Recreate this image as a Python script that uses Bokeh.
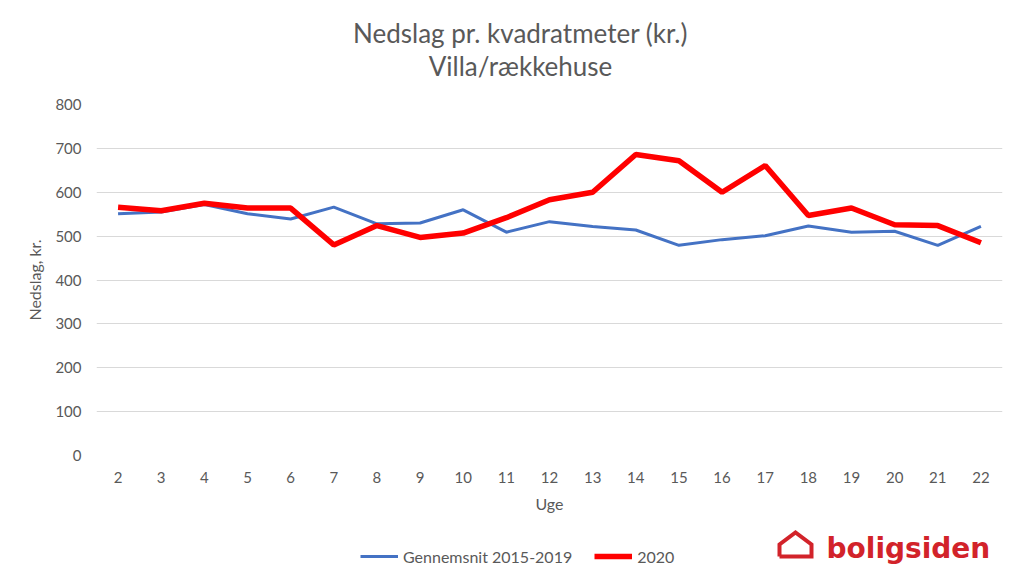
from bokeh.plotting import figure
from bokeh.layouts import column
from bokeh.models import Range1d, FixedTicker, Legend, LegendItem
from bokeh.core.properties import value
from bokeh.embed import file_html
from bokeh.resources import INLINE

# data
uge = [2, 3, 4, 5, 6, 7, 8, 9, 10, 11, 12, 13, 14, 15, 16, 17, 18, 19, 20, 21, 22]
gennemsnit = [551, 555, 572, 551, 539, 566, 528, 530, 560, 509, 533, 522, 514,
              479, 492, 501, 523, 509, 511, 479, 522]
aar2020 = [566, 558, 575, 564, 564, 480, 524, 497, 507, 542, 583, 600, 686,
           672, 600, 661, 547, 564, 526, 524, 485]
y_ticks = [0, 100, 200, 300, 400, 500, 600, 700, 800]
titles = ["Nedslag pr. kvadratmeter (kr.)", "Villa/rækkehuse"]

grey = "#595959"
blue = "#4472c4"
red = "#ff0000"
logo_red = "#d2232a"
font = "Lato"
W = 1008


def strip(h):
    # plain figure for the texts above and below the chart;
    # the column lines its frame up with the chart frame (x 96..1002)
    f = figure(width=W, height=h, output_backend="svg", toolbar_location=None,
               x_range=Range1d(96, 1002), y_range=Range1d(0, h),
               min_border=0)
    f.axis.visible = False
    f.grid.grid_line_color = None
    f.outline_line_color = None
    return f


#----------------title----------------
top = strip(90)
top.text(x=[520, 520], y=[58, 25], text=titles, text_align="center",
         text_baseline="middle", text_font=value(font),
         text_font_size="26px", text_color=grey)

#----------------main chart----------------
p = figure(width=W, height=435, output_backend="svg", toolbar_location=None,
           x_range=Range1d(1.5, 22.5), y_range=Range1d(0, 800),
           min_border_left=96, min_border_right=6,
           min_border_top=14, min_border_bottom=70)
p.outline_line_color = None

p.xaxis.ticker = FixedTicker(ticks=uge)
p.yaxis.ticker = FixedTicker(ticks=y_ticks)
for ax in (p.xaxis, p.yaxis):
    ax.axis_line_color = None
    ax.major_tick_line_color = None
    ax.minor_tick_line_color = None
    ax.major_tick_out = 0
    ax.minor_tick_out = 0
    ax.major_label_text_font = font
    ax.major_label_text_font_size = "15px"
    ax.major_label_text_color = grey
    ax.axis_label_text_font = font
    ax.axis_label_text_font_size = "16px"
    ax.axis_label_text_font_style = "normal"
    ax.axis_label_text_color = grey
p.xaxis.axis_label = "Uge"
p.yaxis.axis_label = "Nedslag, kr."
p.xaxis.major_label_standoff = 16
p.yaxis.major_label_standoff = 15
p.xaxis.axis_label_standoff = 8
p.yaxis.axis_label_standoff = 8
p.xgrid.grid_line_color = None
p.ygrid.grid_line_color = "#d9d9d9"

p.line(uge, gennemsnit, line_color=blue, line_width=3)
p.line(uge, aar2020, line_color=red, line_width=5.5)

#----------------legend and logo----------------
bottom = strip(44)
# one point of each series, outside the strip's view, only for the legend keys
lb = bottom.line(uge[:1], gennemsnit[:1], line_color=blue, line_width=3)
lr = bottom.line(uge[:1], aar2020[:1], line_color=red, line_width=5.5)
legend = Legend(items=[LegendItem(label="Gennemsnit 2015-2019", renderers=[lb]),
                       LegendItem(label="2020", renderers=[lr])],
                location=(264, 3), orientation="horizontal",
                padding=0, margin=0, spacing=22, glyph_width=38,
                glyph_height=20, label_height=20,
                label_standoff=5, border_line_color=None,
                background_fill_alpha=0,
                label_text_font=font, label_text_font_size="16px",
                label_text_color=grey)
bottom.add_layout(legend, "center")

# house outline of the logo
bottom.line(x=[779, 779, 795, 811, 811, 779], y=[13, 25, 37, 25, 13, 13],
            line_color=logo_red, line_width=4, line_join="miter")
bottom.text(x=[826], y=[21], text=["boligsiden"], text_baseline="middle",
            text_font=value("DejaVu Sans"), text_font_style="bold",
            text_font_size="28px", text_color=logo_red)

layout = column(top, p, bottom, spacing=0)
open("out.html", "w").write(file_html(layout, INLINE))
